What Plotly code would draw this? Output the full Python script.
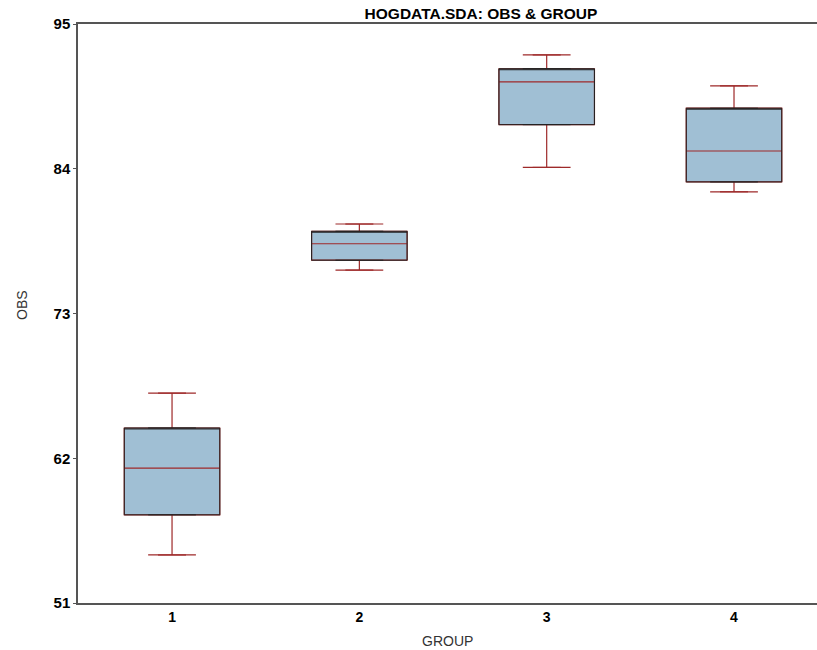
import plotly.graph_objects as go

groups = [1, 2, 3, 4]
lower_whisker = [54.65, 76.3, 84.1, 82.25]
q1 = [57.7, 77.05, 87.35, 83.0]
median = [61.25, 78.3, 90.6, 85.35]
q3 = [64.3, 79.25, 91.6, 88.6]
upper_whisker = [66.95, 79.8, 92.65, 90.3]

y_ticks = [51, 62, 73, 84, 95]

RED = "#9E2A2A"
FILL = "#A0BFD4"
BOXW = 0.51
SANS = "Liberation Sans, Arial"

fig = go.Figure()

# Box with red whiskers / median
fig.add_trace(go.Box(
    x=groups, q1=q1, median=median, q3=q3,
    lowerfence=lower_whisker, upperfence=upper_whisker,
    width=BOXW, fillcolor=FILL, line=dict(color=RED, width=1.2),
    boxpoints=False, hoverinfo="skip", showlegend=False,
))
# Black outline over box
fig.add_trace(go.Box(
    x=groups, q1=q1, median=q3, q3=q3,
    lowerfence=q1, upperfence=q3,
    width=BOXW, fillcolor="rgba(0,0,0,0)", line=dict(color="#222", width=1.0),
    boxpoints=False, hoverinfo="skip", showlegend=False,
))
# Whisker caps
fig.add_trace(go.Scatter(
    x=groups + groups, y=lower_whisker + upper_whisker,
    mode="markers",
    marker=dict(symbol="line-ew", size=20, color=RED, line=dict(color=RED, width=1.2)),
    hoverinfo="skip", showlegend=False,
))

fig.update_layout(
    width=817, height=650,
    margin=dict(l=78, r=0, t=24, b=47),
    paper_bgcolor="white", plot_bgcolor="white",
    boxmode="overlay",
    title=dict(text="<b>HOGDATA.SDA: OBS & GROUP</b>", x=481 / 817, xanchor="center",
               y=1 - 14 / 650, yanchor="middle",
               font=dict(family=SANS, size=15.5, color="black")),
    xaxis=dict(
        range=[0.498, 4.443], tickvals=groups, ticktext=[str(g) for g in groups],
        showgrid=False, zeroline=False, showline=True, linecolor="#555", linewidth=1.5,
        mirror=True, ticks="", ticklen=0, automargin=False,
        tickfont=dict(family=SANS, size=14, color="black", weight="bold"),
    ),
    yaxis=dict(
        range=[51, 95], tickvals=y_ticks, ticktext=[str(t) for t in y_ticks],
        showgrid=False, zeroline=False, showline=True, linecolor="#555", linewidth=1.5,
        ticks="outside", ticklen=3, tickcolor="#555", automargin=False,
        tickfont=dict(family=SANS, size=15, color="black", weight="bold"),
    ),
    annotations=[
        dict(text="GROUP", xref="paper", yref="paper", x=(447 - 78) / 739, y=-(641 - 603) / 579,
             xanchor="center", yanchor="middle", showarrow=False,
             font=dict(family=SANS, size=14, color="#333")),
        dict(text="OBS", xref="paper", yref="paper", x=(22 - 78) / 739, y=(603 - 305) / 579,
             xanchor="center", yanchor="middle", showarrow=False, textangle=-90,
             font=dict(family=SANS, size=14, color="#333")),
    ],
)

fig.write_html(
    "out.html",
    config={"displayModeBar": False},
    post_script="document.body.style.margin='0';document.body.style.overflow='hidden';",
)
